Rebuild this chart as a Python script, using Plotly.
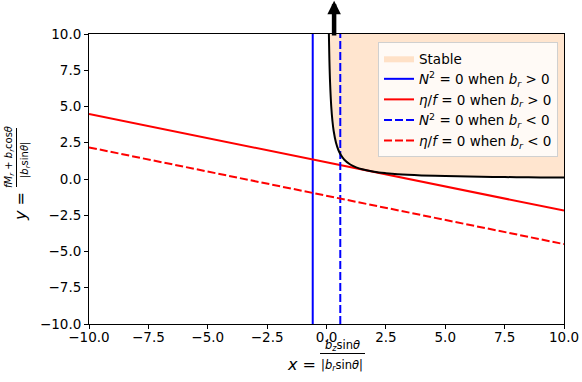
import plotly.graph_objects as go

# ---- data ----
curve_x = [0.10, 0.12, 0.15, 0.20, 0.25, 0.30, 0.40, 0.50, 0.60, 0.75, 1.00, 1.25,
           1.50, 2.00, 2.50, 3.00, 4.00, 5.00, 6.00, 7.00, 8.00, 9.00, 10.0]
curve_y = [10.0, 8.33, 6.67, 5.00, 4.00, 3.33, 2.50, 2.00, 1.67, 1.33, 1.00, 0.80,
           0.67, 0.50, 0.40, 0.33, 0.25, 0.20, 0.17, 0.14, 0.125, 0.11, 0.10]
line_x = [-10.0, 10.0]
eta_pos_y = [4.49, -2.18]
eta_neg_y = [2.18, -4.49]
n2_pos_x = -0.58
n2_neg_x = 0.58
y_span = [-10.0, 10.0]
stable_top = 10.0
arrow_x = 0.32
arrow_tail_y = 9.8
arrow_tip_y = 12.3
tick_vals = [-10.0, -7.5, -5.0, -2.5, 0.0, 2.5, 5.0, 7.5, 10.0]

FONT = "DejaVu Sans"
W, H = 582, 382
L, R, T, B = 89, 18, 34, 58
PW, PH = W - L - R, H - T - B


def px(xp):
    return (xp - L) / PW


def py(yp):
    return (H - B - yp) / PH


fig = go.Figure()

# stable region (above curve)
fx = curve_x + [curve_x[-1], curve_x[0]]
fy = curve_y + [stable_top, stable_top]
fig.add_trace(go.Scatter(x=fx, y=fy, fill="toself", mode="lines",
                         fillcolor="rgba(255,127,14,0.2)", line=dict(width=0),
                         name="Stable", hoverinfo="skip"))

fig.add_trace(go.Scatter(x=[n2_pos_x, n2_pos_x], y=y_span, mode="lines",
                         line=dict(color="#0000ff", width=2),
                         name="<i>N</i><sup>2</sup> = 0 when <i>b<sub>r</sub></i> &gt; 0"))
fig.add_trace(go.Scatter(x=line_x, y=eta_pos_y, mode="lines",
                         line=dict(color="#ff0000", width=2),
                         name="<i>η</i>/<i>f</i> = 0 when <i>b<sub>r</sub></i> &gt; 0"))
fig.add_trace(go.Scatter(x=[n2_neg_x, n2_neg_x], y=y_span, mode="lines",
                         line=dict(color="#0000ff", width=2, dash="8px,3px"),
                         name="<i>N</i><sup>2</sup> = 0 when <i>b<sub>r</sub></i> &lt; 0"))
fig.add_trace(go.Scatter(x=line_x, y=eta_neg_y, mode="lines",
                         line=dict(color="#ff0000", width=2, dash="8px,3px"),
                         name="<i>η</i>/<i>f</i> = 0 when <i>b<sub>r</sub></i> &lt; 0"))

# boundary curve
fig.add_trace(go.Scatter(x=curve_x, y=curve_y, mode="lines", line_shape="spline",
                         line=dict(color="black", width=2), showlegend=False))

axis_common = dict(range=[-10, 10], tickvals=tick_vals, tickformat=".1f",
                   ticks="outside", ticklen=4, tickwidth=1, tickcolor="black",
                   showline=True, linecolor="black", linewidth=1, mirror=True,
                   showgrid=False, zeroline=False, automargin=False,
                   tickfont=dict(family=FONT, size=13.5, color="black"))

fig.update_layout(
    width=W, height=H, autosize=False,
    margin=dict(l=L, r=R, t=T, b=B, pad=0, autoexpand=False),
    plot_bgcolor="white", paper_bgcolor="white",
    font=dict(family=FONT, size=13.5, color="black"),
    xaxis=dict(axis_common, ticklabelstandoff=-3),
    yaxis=axis_common,
    legend=dict(x=px(558), y=py(42), xanchor="right", yanchor="top",
                bgcolor="rgba(255,255,255,0.8)", bordercolor="#d0d0d0", borderwidth=1,
                font=dict(family=FONT, size=13.5, color="black"),
                itemwidth=30, tracegroupgap=0),
    showlegend=True,
)

# arrow
fig.add_annotation(x=arrow_x, y=arrow_tip_y, ax=arrow_x, ay=arrow_tail_y,
                   xref="x", yref="y", axref="x", ayref="y", text="",
                   showarrow=True, arrowhead=2, arrowwidth=4.5, arrowsize=0.6,
                   arrowcolor="black")

ann = dict(xref="paper", yref="paper", showarrow=False,
           xanchor="center", yanchor="middle")

# x label
fig.add_annotation(x=px(301), y=py(364), text="<i>x</i> =",
                   font=dict(family=FONT, size=16), **ann)
fig.add_annotation(x=px(342), y=py(345.5), text="<i>b<sub>z</sub></i>sin<i>θ</i>",
                   font=dict(family=FONT, size=11.5), **ann)
fig.add_annotation(x=px(342), y=py(365), text="|<i>b<sub>r</sub></i>sin<i>θ</i>|",
                   font=dict(family=FONT, size=11.5), **ann)
fig.add_shape(type="line", xref="paper", yref="paper", x0=px(320), x1=px(365),
              y0=py(353.5), y1=py(353.5), line=dict(color="black", width=1))

# y label
fig.add_annotation(x=px(20), y=py(207), text="<i>y</i> =", textangle=-90,
                   font=dict(family=FONT, size=16), **ann)
fig.add_annotation(x=px(9), y=py(157),
                   text="<i>fM<sub>r</sub></i> + <i>b<sub>r</sub></i>cos<i>θ</i>",
                   textangle=-90, font=dict(family=FONT, size=10), **ann)
fig.add_annotation(x=px(25), y=py(160), text="|<i>b<sub>r</sub></i>sin<i>θ</i>|",
                   textangle=-90, font=dict(family=FONT, size=10), **ann)
fig.add_shape(type="line", xref="paper", yref="paper", x0=px(16.5), x1=px(16.5),
              y0=py(128), y1=py(187), line=dict(color="black", width=1))

fig.write_html("out.html", config={"responsive": False, "displayModeBar": False},
               post_script="document.body.style.margin='0px';")
